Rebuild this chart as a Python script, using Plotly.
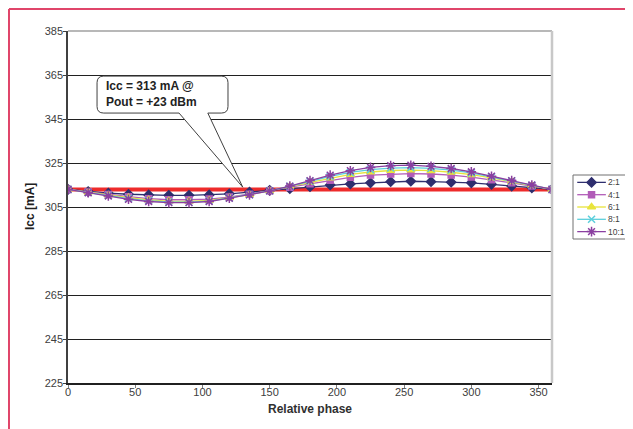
import plotly.graph_objects as go

phase = list(range(0, 361, 15))
s2 = [313, 312, 311.3, 310.8, 310.5, 310.3, 310.3, 310.5, 311, 311.8, 312.6, 313.3, 314.2, 315, 315.5, 316, 316.5, 316.7, 316.5, 316.3, 316, 315.3, 314.5, 313.7, 313]
s4 = [313, 311.8, 310.7, 309.7, 308.8, 308.3, 308.3, 308.6, 309.5, 310.8, 312.4, 314, 315.6, 317.2, 318.5, 319.5, 320, 320.2, 320, 319.5, 318.6, 317.4, 316, 314.5, 313]
s6 = [313, 311.7, 310.4, 309.2, 308.2, 307.7, 307.6, 308, 309.2, 310.6, 312.4, 314.3, 316.3, 318.2, 319.8, 320.9, 321.6, 321.8, 321.5, 320.8, 319.7, 318.2, 316.5, 314.7, 313]
s8 = [313, 311.6, 310.2, 308.8, 307.8, 307.3, 307.2, 307.7, 309.1, 310.6, 312.4, 314.4, 316.7, 318.9, 320.7, 322, 322.7, 322.9, 322.6, 321.8, 320.5, 318.7, 316.8, 314.9, 313]
s10 = [313, 311.5, 310, 308.5, 307.5, 307, 307, 307.5, 309, 310.5, 312.3, 314.5, 317, 319.5, 321.5, 323, 323.8, 324, 323.5, 322.5, 321, 319, 317, 315, 313]
ref_icc = 313
series_names = ["2:1", "4:1", "6:1", "8:1", "10:1"]
y_ticks = list(range(225, 386, 20))
x_ticks = list(range(0, 351, 50))

FONT = "Liberation Sans, Arial"
fig = go.Figure()

# reference line
fig.add_trace(go.Scatter(x=[0, 360], y=[ref_icc, ref_icc], mode="lines",
                         line=dict(color="#EE2B2B", width=4), showlegend=False, hoverinfo="skip"))

styles = [
    ("#2E2E6E", "diamond", 7),
    ("#B25CB8", "square", 6),
    ("#E8E43C", "triangle-up", 7),
    ("#5CCFDC", "x-thin-open", 7),
    ("#8A3FA0", "asterisk-open", 8),
]
for i, (name, ys, (col, sym, sz)) in enumerate(zip(series_names, [s2, s4, s6, s8, s10], styles)):
    fig.add_trace(go.Scatter(
        x=phase, y=ys, name=name, mode="lines+markers", showlegend=False,
        line=dict(color=col, width=1.3),
        marker=dict(symbol=sym, size=sz, color=col, line=dict(color=col, width=1.5)),
    ))
    # legend entry drawn on a small auxiliary axis
    fig.add_trace(go.Scatter(
        x=[0.08, 0.62], y=[i, i], mode="lines", xaxis="x2", yaxis="y2", showlegend=False,
        line=dict(color=col, width=1.3), hoverinfo="skip"))
    fig.add_trace(go.Scatter(
        x=[0.35], y=[i], mode="markers", xaxis="x2", yaxis="y2", showlegend=False,
        marker=dict(symbol=sym, size=sz, color=col, line=dict(color=col, width=1.5)),
        hoverinfo="skip"))
    fig.add_annotation(x=0.63, y=i, xref="x2", yref="y2", xanchor="left", yanchor="middle",
                       showarrow=False, text=name,
                       font=dict(family=FONT, size=8.5, color="#404040"))

# legend box
fig.add_shape(type="rect", xref="x2 domain", yref="y2 domain", x0=0, x1=1, y0=0, y1=1,
              line=dict(color="#707070", width=1))

# callout bubble with tail
bx0, bx1, by0, by1 = 21.6, 119, 347.7, 364.5
rx, ry = 5, 3
tip_x, tip_y = 130, 314
path = (f"M {bx0+rx},{by1} L {bx1-rx},{by1} Q {bx1},{by1} {bx1},{by1-ry} "
        f"L {bx1},{by0+ry} Q {bx1},{by0} {bx1-rx},{by0} L 104,{by0} L {tip_x},{tip_y} "
        f"L 82.6,{by0} L {bx0+rx},{by0} Q {bx0},{by0} {bx0},{by0+ry} "
        f"L {bx0},{by1-ry} Q {bx0},{by1} {bx0+rx},{by1} Z")
fig.add_shape(type="path", path=path, xref="x", yref="y",
              line=dict(color="#404040", width=1), fillcolor="white", layer="above")
fig.add_annotation(x=26.5, y=356.2, xref="x", yref="y", xanchor="left", yanchor="middle",
                   align="left", showarrow=False,
                   text="<b>Icc = 313 mA @</b><br><b>Pout = +23 dBm</b>",
                   font=dict(family=FONT, size=12, color="#222222"))

# axis titles
W = 562
H = 352
fig.add_annotation(x=(310 - 68) / W, y=-(409 - 383) / H, xref="paper", yref="paper",
                   xanchor="center", yanchor="middle", showarrow=False,
                   text="<b>Relative phase</b>", font=dict(family=FONT, size=12, color="#303030"))
fig.add_annotation(x=(30 - 68) / W, y=1 - (207 - 31) / H, xref="paper", yref="paper",
                   xanchor="center", yanchor="middle", showarrow=False, textangle=-90,
                   text="<b>Icc [mA]</b>", font=dict(family=FONT, size=12, color="#202020"))

# plot frame top/right (gray)
fig.add_shape(type="line", xref="x domain", yref="y domain", x0=0, x1=1, y0=1, y1=1,
              line=dict(color="#A0A0A0", width=1.5))
fig.add_shape(type="line", xref="x domain", yref="y domain", x0=1, x1=1, y0=0, y1=1,
              line=dict(color="#C8C8C8", width=2.5))

# outer red frame (top and left)
fig.add_shape(type="line", xref="paper", yref="paper", x0=-0.105, x1=1.2, y0=1.0625, y1=1.0625,
              line=dict(color="#E0456A", width=2))
fig.add_shape(type="line", xref="paper", yref="paper", x0=-0.105, x1=-0.105, y0=-0.2, y1=1.0625,
              line=dict(color="#E0456A", width=2))

# page body has an 8px default margin; the figure is sized to compensate
fig.update_layout(
    width=625, height=421,
    margin=dict(l=60, r=3, t=23, b=46, autoexpand=False),
    paper_bgcolor="white", plot_bgcolor="white",
    font=dict(family=FONT, size=11, color="#404040"),
    showlegend=False,
    xaxis=dict(domain=[0, 484 / W], range=[0, 360], tickvals=x_ticks, showgrid=False,
               zeroline=False, showline=True, linecolor="#202020", linewidth=1.5,
               ticks="outside", ticklen=3, tickcolor="#808080", automargin=False,
               ticklabelstandoff=-5),
    yaxis=dict(range=[225, 385], tickvals=y_ticks, showgrid=True, gridcolor="#202020",
               gridwidth=1, zeroline=False, showline=True, linecolor="#404040", linewidth=1.5,
               ticks="outside", ticklen=3, tickcolor="#404040", automargin=False,
               ticklabelstandoff=-2),
    xaxis2=dict(domain=[(573 - 68) / W, (626 - 68) / W], range=[0, 1], visible=False,
                anchor="y2", fixedrange=True, automargin=False),
    yaxis2=dict(domain=[1 - (239 - 31) / H, 1 - (175 - 31) / H], range=[4.6, -0.6],
                visible=False, anchor="x2", fixedrange=True, automargin=False),
)

fig.write_html("out.html")
